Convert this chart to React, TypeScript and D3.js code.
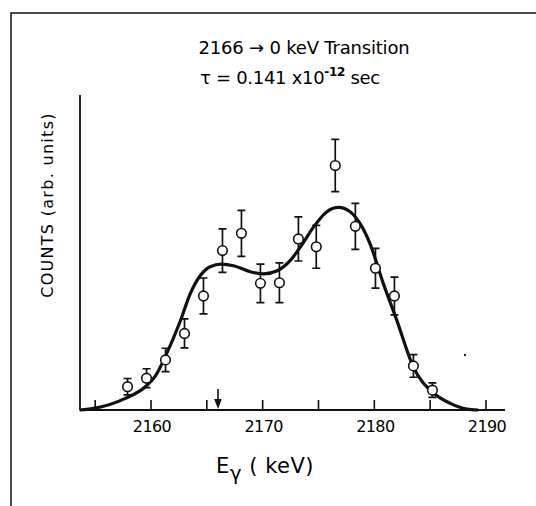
import React, { useRef, useEffect } from 'react';
import * as d3 from 'd3';

// measured points (keV, counts in arbitrary units) and their errors
const energies = [2157.9, 2159.6, 2161.3, 2163.0, 2164.7, 2166.4, 2168.1, 2169.8, 2171.5,
  2173.2, 2174.8, 2176.5, 2178.3, 2180.1, 2181.8, 2183.5, 2185.2];
const counts = [7.4, 10.1, 15.9, 24.3, 36.2, 50.6, 56.1, 40.2, 40.4,
  54.3, 51.8, 77.6, 58.3, 45.0, 36.2, 14.0, 6.3];
const errors = [2.6, 3.0, 3.7, 4.6, 5.7, 6.9, 7.3, 6.1, 6.3,
  7.0, 6.8, 8.3, 7.3, 6.3, 6.0, 3.6, 2.3];

// fitted lineshape
const fitE = [2153.6, 2155.0, 2157.7, 2159.5, 2160.4, 2161.3, 2162.6, 2163.5, 2164.4, 2165.3,
  2166.3, 2167.4, 2168.9, 2170.1, 2171.3, 2172.5, 2173.6, 2174.5, 2175.7, 2176.8, 2177.8,
  2178.7, 2179.6, 2180.8, 2182.0, 2183.5, 2185.3, 2186.8, 2188.3, 2189.3];
const fitC = [0, 0.6, 3.7, 7.4, 10.8, 17.1, 28.0, 36.8, 42.6, 45.5,
  46.3, 45.8, 43.9, 43.2, 44.2, 47.6, 52.9, 57.8, 62.8, 64.3, 63.0,
  59.3, 52.9, 40.2, 28.6, 13.6, 5.4, 2.1, 0.3, 0];

const xTicks = [2155, 2160, 2165, 2170, 2175, 2180, 2185, 2190];
const xLabels = [2160, 2170, 2180, 2190];
const transitionE = 2166;

export default function App() {
  const ref = useRef<SVGSVGElement>(null);

  useEffect(() => {
    const width = 536;
    const height = 506;
    const svg = d3.select(ref.current)
      .attr('width', width)
      .attr('height', height);
    svg.selectAll('*').remove();

    const x = d3.scaleLinear().domain([2160, 2190]).range([151, 486]);
    const y = d3.scaleLinear().domain([0, 100]).range([410, 95]);
    const font = "'DejaVu Sans', Verdana, sans-serif";

    // frame (left and top only)
    svg.append('path')
      .attr('d', 'M11,506 L11,13 L536,13')
      .attr('fill', 'none')
      .attr('stroke', '#111')
      .attr('stroke-width', 1.5);

    const g = svg.append('g');

    // axes
    g.append('line')
      .attr('x1', 80).attr('x2', 80)
      .attr('y1', y(100)).attr('y2', y(0))
      .attr('stroke', '#111').attr('stroke-width', 1.8);
    g.append('line')
      .attr('x1', 80).attr('x2', 505)
      .attr('y1', y(0)).attr('y2', y(0))
      .attr('stroke', '#111').attr('stroke-width', 2);

    g.selectAll('.tick')
      .data(xTicks)
      .enter()
      .append('line')
      .attr('class', 'tick')
      .attr('x1', d => x(d)).attr('x2', d => x(d))
      .attr('y1', y(0)).attr('y2', y(0) - 10)
      .attr('stroke', '#111').attr('stroke-width', 1.6);

    g.selectAll('.tlab')
      .data(xLabels)
      .enter()
      .append('text')
      .attr('class', 'tlab')
      .attr('x', d => x(d) + 1)
      .attr('y', 432)
      .attr('text-anchor', 'middle')
      .attr('font-family', font)
      .attr('font-size', 16)
      .attr('letter-spacing', -0.6)
      .text(d => String(d));

    // arrow marking the transition energy
    const ax = x(transitionE);
    g.append('line')
      .attr('x1', ax).attr('x2', ax)
      .attr('y1', 389).attr('y2', 402)
      .attr('stroke', '#111').attr('stroke-width', 1.6);
    g.append('path')
      .attr('d', `M${ax - 3.8},399 L${ax + 3.8},399 L${ax},409 Z`)
      .attr('fill', '#111');

    // fit curve
    const line = d3.line<number>()
      .x((d, i) => x(fitE[i]))
      .y(d => y(d))
      .curve(d3.curveMonotoneX);
    g.append('path')
      .attr('d', line(fitC))
      .attr('fill', 'none')
      .attr('stroke', '#111')
      .attr('stroke-width', 3.2)
      .attr('stroke-linejoin', 'round');

    // error bars
    const pts = energies.map((e, i) => ({ e, c: counts[i], s: errors[i] }));
    const bars = g.append('g').attr('stroke', '#111').attr('stroke-width', 1.7);
    bars.selectAll('.eb')
      .data(pts)
      .enter()
      .append('path')
      .attr('class', 'eb')
      .attr('fill', 'none')
      .attr('d', d => {
        const px = x(d.e);
        const t = y(d.c + d.s);
        const b = y(d.c - d.s);
        return `M${px},${t} L${px},${b} M${px - 4},${t} L${px + 4},${t} M${px - 4},${b} L${px + 4},${b}`;
      });

    g.selectAll('.pt')
      .data(pts)
      .enter()
      .append('circle')
      .attr('class', 'pt')
      .attr('cx', d => x(d.e))
      .attr('cy', d => y(d.c))
      .attr('r', 4.8)
      .attr('fill', 'white')
      .attr('stroke', '#111')
      .attr('stroke-width', 1.6);

    // stray speck in the scan
    g.append('circle').attr('cx', 465).attr('cy', 355).attr('r', 1.2).attr('fill', '#222');

    // titles
    svg.append('text')
      .attr('x', 304).attr('y', 54)
      .attr('text-anchor', 'middle')
      .attr('font-family', font)
      .attr('font-size', 18)
      .attr('letter-spacing', -0.2)
      .text('2166 \u2192 0  keV  Transition');

    const t2 = svg.append('text')
      .attr('x', 290).attr('y', 84)
      .attr('text-anchor', 'middle')
      .attr('font-family', font)
      .attr('font-size', 18)
      .attr('letter-spacing', -0.3);
    t2.append('tspan').text('\u03c4 = 0.141  x10');
    t2.append('tspan').attr('dy', -8).attr('font-size', 12).attr('font-weight', 'bold').text('-12');
    t2.append('tspan').attr('dy', 8).text(' sec');

    // y label
    svg.append('text')
      .attr('transform', 'translate(53,205) rotate(-90)')
      .attr('text-anchor', 'middle')
      .attr('font-family', font)
      .attr('font-size', 16)
      .attr('letter-spacing', 1.3)
      .text('COUNTS  (arb. units)');

    // x label
    const xl = svg.append('text')
      .attr('x', 216).attr('y', 473)
      .attr('font-family', font)
      .attr('font-size', 21)
      .attr('letter-spacing', 0.5);
    xl.append('tspan').text('E');
    xl.append('tspan').attr('dy', 7).attr('font-size', 20).text('\u03b3');
    xl.append('tspan').attr('dy', -7).text(' ( keV)');
  }, []);

  return (
    <div style={{ position: 'absolute', left: 0, top: 0, width: 536, height: 506 }}>
      <svg ref={ref} style={{ display: 'block' }} />
    </div>
  );
}
